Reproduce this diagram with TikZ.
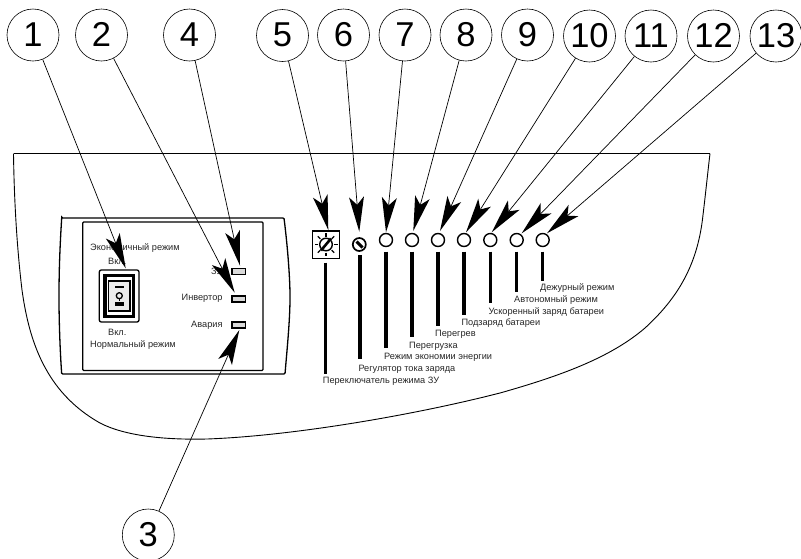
\documentclass[tikz,border=0pt]{standalone}
\usepackage{fontspec}
\setmainfont{Liberation Sans}
\usetikzlibrary{arrows.meta}
\tikzset{
  x=1pt,y=-1pt,
  callout/.style={circle,draw=black,line width=0.6pt,minimum size=52pt,inner sep=0pt,text height=24.5pt,text depth=2pt,font=\fontsize{34.5}{34.5}\selectfont,fill=white},
  ptr/.style={draw=black,line width=0.7pt,-{Stealth[length=35pt,width=15pt,inset=8pt,line width=0pt]}},
  lbl/.style={anchor=west,inner sep=0pt,font=\fontsize{9.2}{11}\selectfont,text=black!85},
  bar/.style={line width=3.2pt,black},
  led/.style={draw=black,line width=1.6pt,fill=black!15},
  lamp/.style={circle,draw=black,line width=1.4pt,minimum size=13pt,inner sep=0pt,fill=white},
  outline/.style={draw=black,line width=0.9pt},
  frame/.style={draw=black,line width=1.3pt,rounded corners=1pt}
}
\begin{document}
\begin{tikzpicture}
\useasboundingbox (0,0) rectangle (801,558);
% panel
\draw[outline,line width=1.2pt] (710,153.5) -- (13.5,153.5);
\draw[outline] (13.5,153.5)
  .. controls (14,190) and (16,240) .. (22,290)
  .. controls (29,340) and (45,392) .. (100,423)
  .. controls (125,436) and (165,440) .. (207,439)
  .. controls (290,436) and (410,416) .. (500,393)
  .. controls (560,376) and (610,358) .. (645,328)
  .. controls (680,296) and (698,262) .. (703,215)
  .. controls (706,190) and (708,170) .. (710,153.5);
% bezel
\draw[frame] (61.7,218) -- (284,218) .. controls (288,250) and (290,280) .. (290,297)
  .. controls (290,320) and (287,350) .. (285,374) -- (61.7,374)
  .. controls (60,350) and (59,320) .. (59,297) .. controls (59,270) and (60,245) .. (61.7,218) -- cycle;
\draw[frame] (82.7,222) rectangle (263,370.5);
% rocker switch
\draw[draw=black,line width=1.3pt,rounded corners=2pt] (99.3,270) rectangle (139,322);
\draw[draw=black,line width=3.2pt] (105,275.5) rectangle (133.5,316.5);
\draw[draw=black,line width=1.2pt,fill=black!8] (108.5,281) rectangle (130,311);
\draw[line width=1.3pt] (115,287) -- (123.5,287);
\draw[line width=1.3pt] (119.3,295.7) circle (3);
\draw[line width=1.3pt] (119.3,299) -- (119.3,301);
\draw[line width=3.5pt] (115,304) -- (123.5,304);
% LEDs
\draw[led] (231.7,268.5) rectangle (245.3,274.5);
\draw[led] (231.7,296) rectangle (245.3,302);
\draw[led] (231.7,322) rectangle (245.3,328);
% mode selector
\draw[draw=black,line width=1.6pt] (312.3,230.7) rectangle (339.3,258.3);
\draw[line width=1.4pt] (326,244.5) circle (6.3);
\foreach \a in {0,45,...,315}{\draw[line width=1.3pt] (326,244.5) ++(\a:8) -- ++(\a:3.5);}
\draw[line width=2.6pt] (321,250.5) -- (331,238.5);
% current regulator
\node[lamp,line width=1.7pt] (knob) at (359.3,244.5) {};
\draw[line width=3pt] (356.5,241.5) -- (362.5,247.5);
% lamps
\node[lamp] (l7) at (386,240) {};
\node[lamp] (l8) at (412,240) {};
\node[lamp] (l9) at (438,240) {};
\node[lamp] (l10) at (464,240) {};
\node[lamp] (l11) at (490.3,240) {};
\node[lamp] (l12) at (516.7,240) {};
\node[lamp] (l13) at (542.7,240) {};
% bars
\draw[bar] (325.7,262.7) -- (325.7,374);
\draw[bar] (360,255) -- (360,359.3);
\draw[bar] (386,251.7) -- (386,348.3);
\draw[bar] (412,251.7) -- (412,336.7);
\draw[bar] (438,251.7) -- (438,326);
\draw[bar] (464,251.7) -- (464,315);
\draw[bar] (490.3,251.7) -- (490.3,303.3);
\draw[bar] (516.7,251.7) -- (516.7,292);
\draw[bar] (542.7,251.7) -- (542.7,280.7);
% labels
\node[lbl] (t1) at (90,247.7) {Экономичный режим};
\node[lbl] (t2) at (108,261.7) {Вкл.};
\node[lbl] (t3) at (108,332) {Вкл.};
\node[lbl] (t4) at (90,345) {Нормальный режим};
\node[lbl,anchor=east] (t5) at (222.7,271) {ЗУ};
\node[lbl,anchor=east] (t6) at (222.7,298) {Инвертор};
\node[lbl,anchor=east] (t7) at (222.7,325) {Авария};
\node[lbl] (r5) at (322.7,381) {Переключатель режима ЗУ};
\node[lbl] (r6) at (358.3,369) {Регулятор тока заряда};
\node[lbl] (r7) at (384,357.7) {Режим экономии энергии};
\node[lbl] (r8) at (409,346.7) {Перегрузка};
\node[lbl] (r9) at (435,334.7) {Перегрев};
\node[lbl] (r10) at (461.3,323) {Подзаряд батареи};
\node[lbl] (r11) at (488.3,311.7) {Ускоренный заряд батареи};
\node[lbl] (r12) at (514,300) {Автономный режим};
\node[lbl] (r13) at (540,288) {Дежурный режим};
% callouts
\node[callout] (c1) at (33,35) {1};
\node[callout] (c2) at (101.5,35) {2};
\node[callout] (c4) at (189.5,35) {4};
\node[callout] (c5) at (282.5,35.5) {5};
\node[callout] (c6) at (343.5,35) {6};
\node[callout] (c7) at (405,35) {7};
\node[callout] (c8) at (466,35) {8};
\node[callout] (c9) at (527.5,35) {9};
\node[callout] (c10) at (589.5,36) {10};
\node[callout] (c11) at (651,36) {11};
\node[callout] (c12) at (713.5,36) {12};
\node[callout] (c13) at (776,36) {13};
\node[callout] (c3) at (148.3,535) {3};
% arrow targets
\coordinate (p1) at (125.7,268.3);
\coordinate (p2) at (234.7,292.7);
\coordinate (p3) at (239.3,330);
\coordinate (p4) at (240,265.7);
\coordinate (p5) at (328.3,230);
\coordinate (p6) at (359.3,231.7);
\coordinate (p7) at (386,232.3);
\coordinate (p8) at (413.3,231);
\coordinate (p9) at (440,231);
\coordinate (p10) at (466,232.3);
\coordinate (p11) at (491.7,232.3);
\coordinate (p12) at (521.7,233.3);
\coordinate (p13) at (547,233.3);
\foreach \n in {1,...,13}{\draw[ptr] (c\n) -- (p\n);}
\end{tikzpicture}
\end{document}
